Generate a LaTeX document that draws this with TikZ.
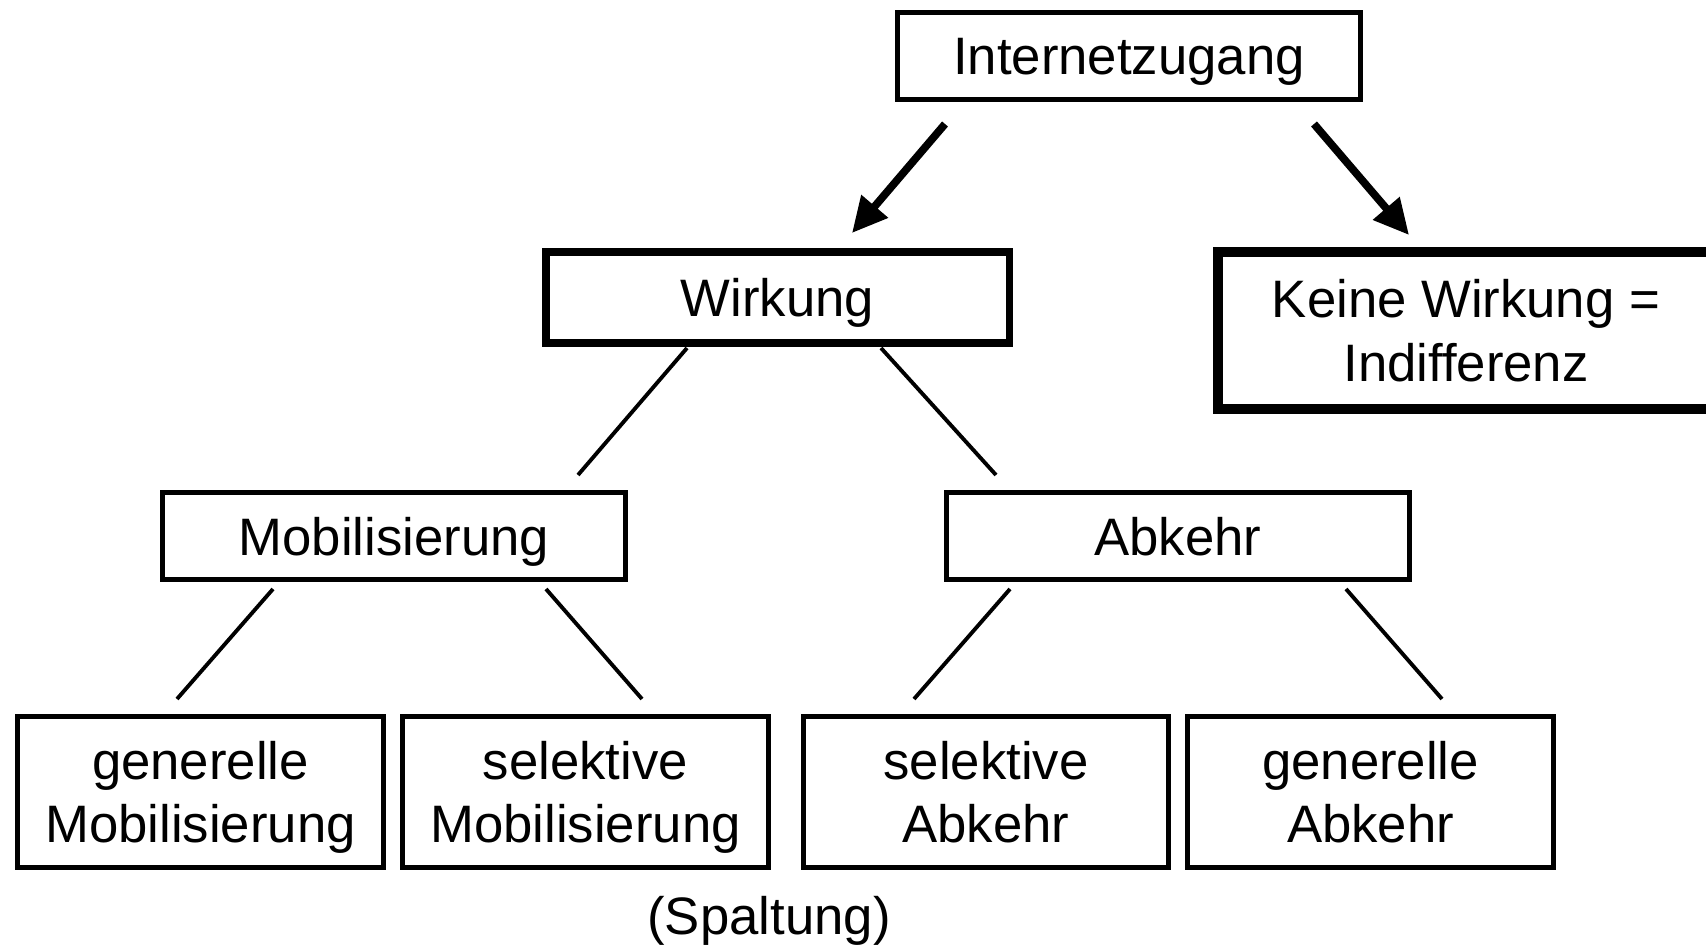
\documentclass[tikz,border=0pt]{standalone}
\usepackage{fontspec}
\setmainfont{Liberation Sans}
\usetikzlibrary{arrows.meta}
\tikzset{
  box/.style={draw, line width=2.85pt, rectangle, inner sep=0pt, align=center,
    text depth=0pt, font=\fontsize{30}{36}\selectfont},
  widebox/.style={box, minimum width=9.28cm, minimum height=1.74cm},
  leafbox/.style={box, minimum width=7.32cm, minimum height=3.02cm},
  conn/.style={line width=2.2pt},
  bigarrow/.style={line width=4.4pt, -{Triangle[length=20pt,width=19pt]}},
}
\begin{document}
\begin{tikzpicture}[x=0.02cm, y=-0.02cm]
\useasboundingbox (0,0) rectangle (1706,949);
% nodes
\node[widebox] (top) at (1129,56) {Internetzugang};
\node[widebox, line width=4.5pt, minimum height=1.82cm] (wirk) at (777.5,297.5) {Wirkung};
\node[box, line width=5.7pt, minimum width=9.92cm, minimum height=3.14cm] (keine) at (1466,330.5) {Keine Wirkung =\\Indifferenz};
\node[widebox] (mob) at (394,536) {Mobilisierung};
\node[widebox] (abk) at (1178,536) {Abkehr};
\node[leafbox] (gm) at (200.5,792) {generelle\\Mobilisierung};
\node[leafbox] (sm) at (585.5,792) {selektive\\Mobilisierung};
\node[leafbox] (sa) at (986,792) {selektive\\Abkehr};
\node[leafbox] (ga) at (1370.5,792) {generelle\\Abkehr};
\node[font=\fontsize{30}{36}\selectfont, inner sep=0pt] (spalt) at (769,921) {(Spaltung)};
% connector end points
\coordinate (a1s) at (945,124);  \coordinate (a1e) at (852,233);
\coordinate (a2s) at (1314,124); \coordinate (a2e) at (1409,235);
\coordinate (w1s) at (687,348);  \coordinate (w1e) at (578,475);
\coordinate (w2s) at (881,348);  \coordinate (w2e) at (996,475);
\coordinate (m1s) at (273,589);  \coordinate (m1e) at (177,699);
\coordinate (m2s) at (546,589);  \coordinate (m2e) at (642,699);
\coordinate (b1s) at (1010,589); \coordinate (b1e) at (914,699);
\coordinate (b2s) at (1346,589); \coordinate (b2e) at (1442,699);
% connectors
\draw[bigarrow] (a1s) -- (a1e);
\draw[bigarrow] (a2s) -- (a2e);
\draw[conn] (w1s) -- (w1e);
\draw[conn] (w2s) -- (w2e);
\draw[conn] (m1s) -- (m1e);
\draw[conn] (m2s) -- (m2e);
\draw[conn] (b1s) -- (b1e);
\draw[conn] (b2s) -- (b2e);
\end{tikzpicture}
\end{document}
